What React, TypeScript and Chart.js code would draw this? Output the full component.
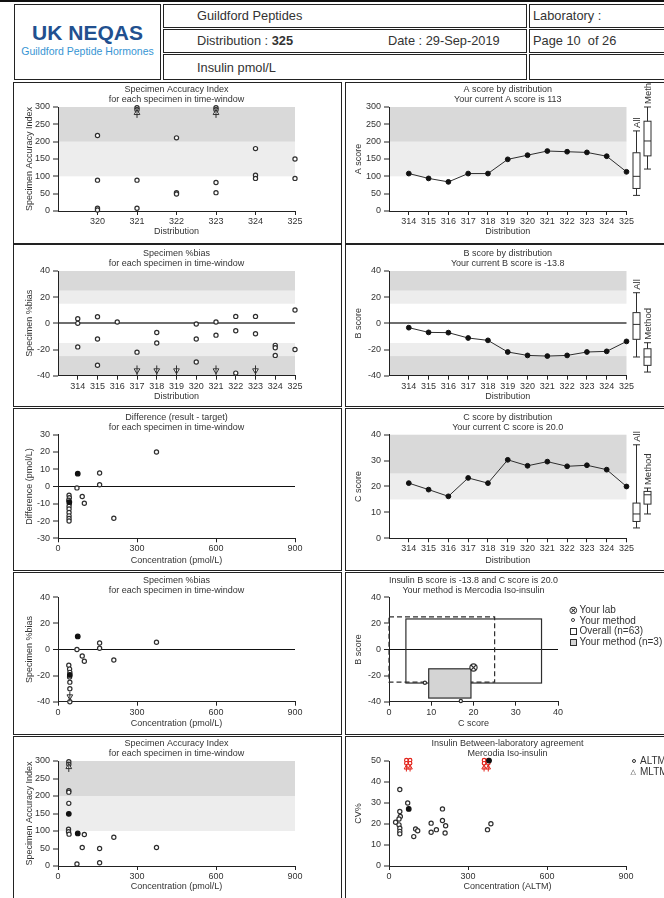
import React, { useEffect, useRef } from 'react';
import { Chart, registerables } from 'chart.js';

Chart.register(...registerables);

const FONT = '"Liberation Sans", Arial, Helvetica, sans-serif';
Chart.defaults.font.family = FONT;
Chart.defaults.font.size = 9;
Chart.defaults.color = '#333';

const TEXT = '#333';
const AXIS = '#222';
const MARK = '#2e2e2e';
const BAND_DARK = '#d9d9d9';
const BAND_LIGHT = '#ededed';
const BOX_FILL = '#d4d4d4';
const RED = '#e2231a';

// ---------- score panels ----------
const distributions = [314, 315, 316, 317, 318, 319, 320, 321, 322, 323, 324, 325];
const aScores = [108, 94, 84, 108, 108, 149, 161, 173, 171, 169, 158, 113];
const bScores = [-3.3, -6.9, -7.1, -11.2, -13.0, -21.9, -24.5, -25.0, -24.5, -21.9, -21.4, -13.8];
const cScores = [21.3, 18.8, 16.2, 23.3, 21.3, 30.3, 28.0, 29.6, 27.8, 28.2, 26.5, 20.0];

// box plots: [min, q1, median, q3, max]
const aAllBox = [45, 65, 100, 168, 231];
const aMethodBox = [121, 159, 202, 259, 300];
const bAllBox = [-25.7, -12.2, -0.8, 8.2, 23.4];
const bMethodBox = [-37.2, -32.1, -25.7, -19.4, -14.8];
const cAllBox = [4, 6.5, 9.4, 13.6, 36.1];
const cMethodBox = [9.4, 13.2, 16.8, 18.1, 19.4];

// performance limits
const saiLimits = [100, 200, 300];
const biasLimits = [15, 25, 40];
const cLimits = [15, 25, 40];
const bcLimitC = [0, 25];
const bcLimitB = [-25, 25];

// ---------- specimen accuracy index by distribution ----------
const saiDist = [320, 320, 320, 320, 321, 321, 322, 322, 322, 323, 323, 324, 324, 324, 325, 325];
const saiByDist = [218, 89, 8, 3, 89, 8, 211, 53, 49, 82, 53, 180, 103, 94, 150, 94];
const saiHighDist = [321, 321, 323, 323];
const saiHighByDist = [298, 292, 298, 292];
const saiArrowDist = [321, 323];
const saiArrowByDist = [283, 283];

// ---------- specimen %bias by distribution ----------
const biasDist = [314, 314, 314, 315, 315, 315, 316, 317, 318, 318, 320, 320, 320, 321, 321, 322, 322, 322, 323, 323, 324, 324, 324, 325, 325];
const biasByDist = [3.5, 0, -18, 5, -12, -32, 1, -22, -7, -15, -0.5, -12, -29.5, 1, -9, 5.3, -5.6, -38, 5.3, -8, -16.8, -18.6, -24.5, 10.2, -20];
const biasArrowDist = [317, 318, 319, 321, 323];
const biasArrowByDist = [-36, -36, -36, -36, -36];

// ---------- difference vs concentration ----------
const diffConc = [72, 158, 158, 374, 92, 100, 212, 42, 43, 41, 43, 42, 42, 42, 42, 42, 42];
const diffValues = [-0.8, 7.8, 1, 20, -5.8, -9.7, -18.4, -5, -6.5, -8, -10, -11.5, -13, -15, -17, -18.5, -20];
const diffCurrentConc = [75, 43];
const diffCurrentValues = [7.4, -9];

// ---------- %bias vs concentration ----------
const biasConc = [72, 92, 100, 158, 158, 374, 212, 41, 44, 45, 44, 45, 45, 45];
const biasByConc = [0, -5, -9, 5, 1, 5.6, -8, -12, -15, -17.5, -21, -25, -30, -40];
const biasCurrentConc = [75, 45];
const biasCurrentByConc = [10, -19.5];
const biasArrowConc = [45];
const biasArrowByConc = [-36];

// ---------- SAI vs concentration ----------
const saiConc = [41, 41, 41, 40, 40, 42, 100, 92, 158, 212, 374, 72, 158];
const saiByConc = [215, 211, 179, 105, 98, 91, 90, 53, 50, 82, 53, 6, 9.5];
const saiCurrentConc = [41, 75];
const saiCurrentByConc = [149, 93];
const saiHighConc = [41, 41];
const saiHighByConc = [298, 291];
const saiArrowConc = [41];
const saiArrowByConc = [283];

// ---------- B score vs C score ----------
const yourLabC = [20.0];
const yourLabB = [-13.8];
const yourMethodC = [8.5, 17];
const yourMethodB = [-25.5, -39.5];

// ---------- between-laboratory CV ----------
const cvConc = [41, 41, 43, 38, 25, 38, 41, 41, 41, 71, 94, 101, 109, 160, 160, 180, 203, 203, 215, 213, 374, 387];
const cvValues = [36.4, 26, 23.6, 22.4, 20.8, 19.6, 18, 16.5, 15.3, 30, 14, 17.6, 16.8, 20.4, 16.1, 17.3, 27.2, 21.7, 19.2, 15.7, 17.3, 20.1];
const cvCurrentConc = [75, 380];
const cvCurrentValues = [27.2, 50.2];
const cvHighConc = [66, 80, 66, 80, 361, 377, 361, 377];
const cvHighValues = [50.4, 50.4, 48.9, 48.9, 50.4, 50.4, 48.9, 48.9];
const cvArrowConc = [66, 80, 361, 377];
const cvArrowValues = [46.8, 46.8, 46.8, 46.8];

// ---------- tick labels ----------
const saiTicks = [0, 50, 100, 150, 200, 250, 300];
const biasTicks = [-40, -30, -20, -10, 0, 10, 20, 30, 40];
const diffTicks = [-30, -20, -10, 0, 10, 20, 30];
const cTicks = [0, 10, 20, 30, 40];
const cvTicks = [0, 10, 20, 30, 40, 50];
const concTicks = [0, 300, 600, 900];
const saiDistTicks = [320, 321, 322, 323, 324, 325];
const bcTicksC = [0, 10, 20, 30, 40];

// ---------- layout ----------
const ROWS = [
    { top: 82, height: 162, titleTop: 3, xHeight: 33, xTitlePad: 7 },
    { top: 244, height: 163, titleTop: 5, xHeight: 31.3, xTitlePad: 5.3 },
    { top: 408, height: 163, titleTop: 4.7, xHeight: 32.7, xTitlePad: 5 },
    { top: 572, height: 163, titleTop: 3.3, xHeight: 33.3, xTitlePad: 6.3 },
    { top: 736, height: 163, titleTop: 3, xHeight: 33, xTitlePad: 6.9 },
];
const COLS = {
    L: { left: 13, width: 329, yWidth: 45, yTitlePad: 11, rightPad: 47 },
    R: { left: 345, width: 355, yWidth: 44, yTitlePad: 8.6, rightPad: 73.5 },
};

type Band = { from: number; to: number; color: string };
type BoxItem = { stats: number[]; offset: number; label: string };
type RectItem = { x: number[]; y: number[]; fill?: string; dash?: number[] };

const xy = (xs: number[], ys: number[]) => xs.map((x, i) => ({ x, y: ys[i] }));

const bandsFor = (limits: number[], mirrored: boolean): Band[] => {
    const [l1, l2, l3] = limits;
    const list = [
        { from: l1, to: l2, color: BAND_LIGHT },
        { from: l2, to: l3, color: BAND_DARK },
    ];
    return mirrored ? [...list, ...list.map(b => ({ ...b, from: -b.from, to: -b.to }))] : list;
};

// shaded performance bands behind everything
const bandsPlugin = (bands: Band[]) => ({
    id: 'bands',
    beforeDraw(chart: any) {
        const { ctx, chartArea: a, scales: { y } } = chart;
        ctx.save();
        bands.forEach(b => {
            const y1 = y.getPixelForValue(b.from);
            const y2 = y.getPixelForValue(b.to);
            ctx.fillStyle = b.color;
            ctx.fillRect(a.left, Math.min(y1, y2), a.right - a.left, Math.abs(y2 - y1));
        });
        ctx.restore();
    },
});

// box-and-whisker summaries to the right of the plot
const boxPlugin = (items: BoxItem[]) => ({
    id: 'boxes',
    afterDraw(chart: any) {
        const { ctx, chartArea: a, scales: { y } } = chart;
        ctx.save();
        ctx.strokeStyle = MARK;
        ctx.lineWidth = 1;
        items.forEach(it => {
            const cx = Math.round(a.right + it.offset) + 0.5;
            const [lo, q1, md, q3, hi] = it.stats.map(v => y.getPixelForValue(v));
            const hw = 3.5;
            ctx.fillStyle = '#fff';
            ctx.fillRect(cx - hw, q3, hw * 2, q1 - q3);
            ctx.beginPath();
            ctx.moveTo(cx, lo); ctx.lineTo(cx, q1);
            ctx.moveTo(cx, q3); ctx.lineTo(cx, hi);
            ctx.moveTo(cx - hw, lo); ctx.lineTo(cx + hw, lo);
            ctx.moveTo(cx - hw, hi); ctx.lineTo(cx + hw, hi);
            ctx.moveTo(cx - hw, md); ctx.lineTo(cx + hw, md);
            ctx.stroke();
            ctx.strokeRect(cx - hw, q3, hw * 2, q1 - q3);
            ctx.save();
            ctx.translate(cx + 1, hi - 3);
            ctx.rotate(-Math.PI / 2);
            ctx.fillStyle = TEXT;
            ctx.font = `9.5px ${FONT}`;
            ctx.textAlign = 'left';
            ctx.textBaseline = 'middle';
            ctx.fillText(it.label, 0, 0);
            ctx.restore();
        });
        ctx.restore();
    },
});

// rectangles in value space (B vs C panel)
const rectPlugin = (items: RectItem[]) => ({
    id: 'rects',
    beforeDatasetsDraw(chart: any) {
        const { ctx, scales: { x, y } } = chart;
        ctx.save();
        items.forEach(r => {
            const x1 = x.getPixelForValue(r.x[0]);
            const x2 = x.getPixelForValue(r.x[1]);
            const y1 = y.getPixelForValue(r.y[1]);
            const y2 = y.getPixelForValue(r.y[0]);
            if (r.fill) {
                ctx.fillStyle = r.fill;
                ctx.fillRect(x1, y1, x2 - x1, y2 - y1);
            }
            ctx.setLineDash(r.dash || []);
            ctx.lineWidth = 1.2;
            ctx.strokeStyle = MARK;
            ctx.strokeRect(x1, y1, x2 - x1, y2 - y1);
        });
        ctx.restore();
    },
});

// dataset helpers
const openDs = (data: any[], r = 2.1, color = MARK) => ({
    data, pointStyle: 'circle', pointRadius: r, pointBorderWidth: 1.2,
    pointBorderColor: color, pointBackgroundColor: '#fff', borderColor: color, backgroundColor: '#fff',
    clip: false, order: 3,
});
const filledDs = (data: any[], r = 2.3) => ({
    ...openDs(data, r), pointBackgroundColor: '#111', backgroundColor: '#111', pointBorderColor: '#111', order: 1,
});
const arrowDs = (data: any[], down: boolean, color = MARK) => [
    {
        data, pointStyle: 'line', pointRotation: 90, pointRadius: 5, pointBorderWidth: 1,
        pointBorderColor: color, borderColor: color, clip: false, order: 1,
    },
    {
        data, pointStyle: 'triangle', pointRotation: down ? 180 : 0, pointRadius: 3.3, pointBorderWidth: 1,
        pointBorderColor: color, pointBackgroundColor: '#fff', borderColor: color, backgroundColor: '#fff',
        clip: false, order: 2,
    },
];
const scoreDs = (scores: number[]) => ({
    data: xy(distributions, scores), showLine: true, borderColor: MARK, borderWidth: 1, tension: 0,
    pointStyle: 'circle', pointRadius: 2.4, pointBorderWidth: 1, pointBackgroundColor: '#111',
    pointBorderColor: '#111', clip: false,
});

type Spec = {
    row: number; side: 'L' | 'R'; rightPad?: number;
    title: string[]; xTitle: string; yTitle: string;
    x: { min: number; max: number; ticks: number[] };
    y: { min: number; max: number; ticks: number[] };
    zero?: { color: string; width: number };
};

function buildOptions(s: Spec) {
    const g = ROWS[s.row];
    const c = COLS[s.side];
    const zero = s.zero;
    return {
        responsive: true,
        maintainAspectRatio: false,
        animation: false,
        events: [],
        layout: { padding: { left: 0, top: 0, bottom: 0, right: s.rightPad ?? c.rightPad } },
        plugins: {
            legend: { display: false },
            tooltip: { enabled: false },
            title: {
                display: true, text: s.title, fullSize: false, color: TEXT,
                font: { size: 9, weight: 'normal', lineHeight: '10px' },
                padding: { top: g.titleTop, bottom: 2 },
            },
        },
        scales: {
            x: {
                type: 'linear', position: 'bottom', min: s.x.min, max: s.x.max,
                afterFit: (sc: any) => { sc.height = g.xHeight; },
                afterBuildTicks: (sc: any) => { sc.ticks = s.x.ticks.map(v => ({ value: v })); },
                ticks: { color: TEXT, font: { size: 9 }, padding: 1, maxRotation: 0, autoSkip: false },
                grid: { drawOnChartArea: false, drawTicks: true, tickLength: 4, tickColor: AXIS, tickWidth: 1 },
                border: { display: true, color: AXIS, width: 1 },
                title: { display: true, text: s.xTitle, color: TEXT, font: { size: 9 }, padding: { top: 0, bottom: g.xTitlePad } },
            },
            y: {
                type: 'linear', position: 'left', min: s.y.min, max: s.y.max,
                afterFit: (sc: any) => { sc.width = c.yWidth; },
                afterBuildTicks: (sc: any) => { sc.ticks = s.y.ticks.map(v => ({ value: v })); },
                ticks: { color: TEXT, font: { size: 9 }, padding: 3 },
                grid: {
                    drawOnChartArea: !!zero, drawTicks: true, tickLength: 5, tickColor: AXIS, tickWidth: 1,
                    color: (ctx: any) => (zero && ctx.tick && ctx.tick.value === 0 ? zero.color : 'rgba(0,0,0,0)'),
                    lineWidth: (ctx: any) => (zero && ctx.tick && ctx.tick.value === 0 ? zero.width : 0),
                },
                border: { display: true, color: AXIS, width: 1 },
                title: { display: true, text: s.yTitle, color: TEXT, font: { size: 9 }, padding: { top: c.yTitlePad } },
            },
        },
    };
}

const GRAY_ZERO = { color: '#6e6e6e', width: 2 };
const BLACK_ZERO = { color: '#111', width: 1 };

const saiDistSpec: Spec = {
    row: 0, side: 'L', title: ['Specimen Accuracy Index', 'for each specimen in time-window'],
    xTitle: 'Distribution', yTitle: 'Specimen Accuracy Index',
    x: { min: 319, max: 325, ticks: saiDistTicks }, y: { min: 0, max: 300, ticks: saiTicks },
};
const aSpec: Spec = {
    row: 0, side: 'R', title: ['A score by distribution', 'Your current A score is 113'],
    xTitle: 'Distribution', yTitle: 'A score',
    x: { min: 313, max: 325, ticks: distributions }, y: { min: 0, max: 300, ticks: saiTicks },
};
const biasDistSpec: Spec = {
    row: 1, side: 'L', title: ['Specimen %bias', 'for each specimen in time-window'],
    xTitle: 'Distribution', yTitle: 'Specimen %bias', zero: GRAY_ZERO,
    x: { min: 313, max: 325, ticks: distributions }, y: { min: -40, max: 40, ticks: biasTicks },
};
const bSpec: Spec = {
    row: 1, side: 'R', title: ['B score by distribution', 'Your current B score is -13.8'],
    xTitle: 'Distribution', yTitle: 'B score', zero: GRAY_ZERO,
    x: { min: 313, max: 325, ticks: distributions }, y: { min: -40, max: 40, ticks: biasTicks },
};
const diffSpec: Spec = {
    row: 2, side: 'L', title: ['Difference (result - target)', 'for each specimen in time-window'],
    xTitle: 'Concentration (pmol/L)', yTitle: 'Difference (pmol/L)', zero: BLACK_ZERO,
    x: { min: 0, max: 900, ticks: concTicks }, y: { min: -30, max: 30, ticks: diffTicks },
};
const cSpec: Spec = {
    row: 2, side: 'R', title: ['C score by distribution', 'Your current C score is 20.0'],
    xTitle: 'Distribution', yTitle: 'C score',
    x: { min: 313, max: 325, ticks: distributions }, y: { min: 0, max: 40, ticks: cTicks },
};
const biasConcSpec: Spec = {
    row: 3, side: 'L', title: ['Specimen %bias', 'for each specimen in time-window'],
    xTitle: 'Concentration (pmol/L)', yTitle: 'Specimen %bias', zero: BLACK_ZERO,
    x: { min: 0, max: 900, ticks: concTicks }, y: { min: -40, max: 40, ticks: biasTicks },
};
const bcSpec: Spec = {
    row: 3, side: 'R', rightPad: 142,
    title: ['Insulin B score is -13.8 and C score is 20.0', 'Your method is Mercodia Iso-insulin'],
    xTitle: 'C score', yTitle: 'B score', zero: BLACK_ZERO,
    x: { min: 0, max: 40, ticks: bcTicksC }, y: { min: -40, max: 40, ticks: biasTicks },
};
const saiConcSpec: Spec = {
    row: 4, side: 'L', title: ['Specimen Accuracy Index', 'for each specimen in time-window'],
    xTitle: 'Concentration (pmol/L)', yTitle: 'Specimen Accuracy Index',
    x: { min: 0, max: 900, ticks: concTicks }, y: { min: 0, max: 300, ticks: saiTicks },
};
const cvSpec: Spec = {
    row: 4, side: 'R', rightPad: 74, title: ['Insulin Between-laboratory agreement', 'Mercodia Iso-insulin'],
    xTitle: 'Concentration (ALTM)', yTitle: 'CV%',
    x: { min: 0, max: 900, ticks: concTicks }, y: { min: 0, max: 50, ticks: cvTicks },
};

const PANELS: { spec: Spec; build: () => any }[] = [
    {
        spec: saiDistSpec,
        build: () => ({
            type: 'scatter',
            data: { datasets: [
                openDs(xy(saiDist, saiByDist)),
                openDs(xy(saiHighDist, saiHighByDist)),
                ...arrowDs(xy(saiArrowDist, saiArrowByDist), false),
            ] },
            options: buildOptions(saiDistSpec),
            plugins: [bandsPlugin(bandsFor(saiLimits, false))],
        }),
    },
    {
        spec: aSpec,
        build: () => ({
            type: 'scatter',
            data: { datasets: [scoreDs(aScores)] },
            options: buildOptions(aSpec),
            plugins: [
                bandsPlugin(bandsFor(saiLimits, false)),
                boxPlugin([{ stats: aAllBox, offset: 9.5, label: 'All' }, { stats: aMethodBox, offset: 20.5, label: 'Method' }]),
            ],
        }),
    },
    {
        spec: biasDistSpec,
        build: () => ({
            type: 'scatter',
            data: { datasets: [
                openDs(xy(biasDist, biasByDist)),
                ...arrowDs(xy(biasArrowDist, biasArrowByDist), true),
            ] },
            options: buildOptions(biasDistSpec),
            plugins: [bandsPlugin(bandsFor(biasLimits, true))],
        }),
    },
    {
        spec: bSpec,
        build: () => ({
            type: 'scatter',
            data: { datasets: [scoreDs(bScores)] },
            options: buildOptions(bSpec),
            plugins: [
                bandsPlugin(bandsFor(biasLimits, true)),
                boxPlugin([{ stats: bAllBox, offset: 9.5, label: 'All' }, { stats: bMethodBox, offset: 20.5, label: 'Method' }]),
            ],
        }),
    },
    {
        spec: diffSpec,
        build: () => ({
            type: 'scatter',
            data: { datasets: [
                filledDs(xy(diffCurrentConc, diffCurrentValues)),
                openDs(xy(diffConc, diffValues)),
            ] },
            options: buildOptions(diffSpec),
        }),
    },
    {
        spec: cSpec,
        build: () => ({
            type: 'scatter',
            data: { datasets: [scoreDs(cScores)] },
            options: buildOptions(cSpec),
            plugins: [
                bandsPlugin(bandsFor(cLimits, false)),
                boxPlugin([{ stats: cAllBox, offset: 9.5, label: 'All' }, { stats: cMethodBox, offset: 20.5, label: 'Method' }]),
            ],
        }),
    },
    {
        spec: biasConcSpec,
        build: () => ({
            type: 'scatter',
            data: { datasets: [
                filledDs(xy(biasCurrentConc, biasCurrentByConc)),
                openDs(xy(biasConc, biasByConc)),
                ...arrowDs(xy(biasArrowConc, biasArrowByConc), true),
            ] },
            options: buildOptions(biasConcSpec),
        }),
    },
    {
        spec: bcSpec,
        build: () => ({
            type: 'scatter',
            data: { datasets: [
                { ...openDs(xy(yourLabC, yourLabB), 3.6), order: 2 },
                { data: xy(yourLabC, yourLabB), pointStyle: 'crossRot', pointRadius: 3.6, pointBorderWidth: 1.2,
                  pointBorderColor: MARK, borderColor: MARK, clip: false, order: 1 },
                openDs(xy(yourMethodC, yourMethodB), 1.6),
            ] },
            options: buildOptions(bcSpec),
            plugins: [rectPlugin([
                { x: [cAllBox[0], cAllBox[4]], y: [bAllBox[0], bAllBox[4]] },
                { x: bcLimitC, y: bcLimitB, dash: [5, 3] },
                { x: [cMethodBox[0], cMethodBox[4]], y: [bMethodBox[0], bMethodBox[4]], fill: BOX_FILL },
            ])],
        }),
    },
    {
        spec: saiConcSpec,
        build: () => ({
            type: 'scatter',
            data: { datasets: [
                filledDs(xy(saiCurrentConc, saiCurrentByConc)),
                openDs(xy(saiConc, saiByConc)),
                openDs(xy(saiHighConc, saiHighByConc)),
                ...arrowDs(xy(saiArrowConc, saiArrowByConc), false),
            ] },
            options: buildOptions(saiConcSpec),
            plugins: [bandsPlugin(bandsFor(saiLimits, false))],
        }),
    },
    {
        spec: cvSpec,
        build: () => ({
            type: 'scatter',
            data: { datasets: [
                filledDs(xy(cvCurrentConc, cvCurrentValues)),
                openDs(xy(cvConc, cvValues)),
                openDs(xy(cvHighConc, cvHighValues), 1.8, RED),
                ...arrowDs(xy(cvArrowConc, cvArrowValues), false, RED).map(d => ({ ...d, pointRadius: d.pointStyle === 'line' ? 3.8 : 2.6 })),
            ] },
            options: buildOptions(cvSpec),
        }),
    },
];

function ChartPanel({ spec, build }: { spec: Spec; build: () => any }) {
    const canvasRef = useRef<HTMLCanvasElement | null>(null);
    const g = ROWS[spec.row];
    const c = COLS[spec.side];

    useEffect(() => {
        if (!canvasRef.current) return;
        const chart = new Chart(canvasRef.current, build());
        return () => chart.destroy();
    }, [build]);

    const box: React.CSSProperties = { position: 'absolute', left: c.left, top: g.top, width: c.width, height: g.height };
    return (
        <>
            <div style={box}>
                <canvas ref={canvasRef} />
            </div>
            <div style={{ ...box, border: '1.5px solid #222', boxSizing: 'border-box', pointerEvents: 'none' }} />
        </>
    );
}

function Header() {
    const cell = (left: number, top: number, width: number, height: number): React.CSSProperties => ({
        position: 'absolute', left, top, width, height, border: '1.5px solid #222', boxSizing: 'border-box',
    });
    const txt = (left: number, cy: number): React.CSSProperties => ({
        position: 'absolute', left, top: cy - 8, lineHeight: '16px', fontSize: 12.8, color: TEXT, whiteSpace: 'nowrap',
    });
    return (
        <>
            <div style={{ position: 'absolute', left: 0, top: 0, width: 664, height: 2, background: '#111' }} />
            <div style={cell(14, 4, 147, 76)} />
            <div style={{ position: 'absolute', left: 14, width: 147, top: 21, lineHeight: '23px', textAlign: 'center',
                fontSize: 21, fontWeight: 'bold', color: '#22508f' }}>UK NEQAS</div>
            <div style={{ position: 'absolute', left: 14, width: 147, top: 45, lineHeight: '12px', textAlign: 'center',
                fontSize: 10.5, color: '#3795d3', whiteSpace: 'nowrap' }}>Guildford Peptide Hormones</div>

            <div style={cell(163, 4, 364, 24)} />
            <div style={cell(163, 29, 364, 24)} />
            <div style={cell(163, 54, 364, 26)} />
            <div style={cell(529, 4, 150, 24)} />
            <div style={cell(529, 29, 150, 24)} />
            <div style={cell(529, 54, 150, 26)} />

            <div style={txt(197, 15.5)}>Guildford Peptides</div>
            <div style={txt(197, 40.7)}>Distribution : <b>325</b></div>
            <div style={txt(388, 40.7)}>Date : 29-Sep-2019</div>
            <div style={txt(197, 67.5)}>Insulin pmol/L</div>
            <div style={txt(533, 15.5)}>Laboratory :</div>
            <div style={txt(533, 40.7)}>Page 10&nbsp; of 26</div>
        </>
    );
}

function Legends() {
    const label = (left: number, cy: number): React.CSSProperties => ({
        position: 'absolute', left, top: cy - 6, lineHeight: '12px', fontSize: 10, color: TEXT, whiteSpace: 'nowrap',
    });
    const circle = (cx: number, cy: number, d: number): React.CSSProperties => ({
        position: 'absolute', left: cx - d / 2, top: cy - d / 2, width: d, height: d, boxSizing: 'border-box',
        border: `1.1px solid ${MARK}`, borderRadius: '50%', background: '#fff',
    });
    const square = (cx: number, cy: number, fill: string): React.CSSProperties => ({
        position: 'absolute', left: cx - 3.5, top: cy - 3.5, width: 7, height: 7, boxSizing: 'border-box',
        border: `1px solid ${MARK}`, background: fill,
    });
    return (
        <>
            {/* B vs C legend */}
            <div style={{ position: 'absolute', left: 568.5, top: 603.5, fontSize: 11.5, lineHeight: '13px', color: MARK,
                fontFamily: '"DejaVu Sans", sans-serif' }}>⊗</div>
            <div style={label(579.5, 610)}>Your lab</div>
            <div style={circle(573, 620, 3.8)} />
            <div style={label(579.5, 620.5)}>Your method</div>
            <div style={square(573, 631, '#fff')} />
            <div style={label(579.5, 630.5)}>Overall (n=63)</div>
            <div style={square(573, 642, BOX_FILL)} />
            <div style={label(579.5, 641.5)}>Your method (n=3)</div>

            {/* CV legend */}
            <div style={circle(633.5, 761, 4)} />
            <div style={label(640, 760.7)}>ALTM</div>
            <div style={{ position: 'absolute', left: 630.5, top: 766.5, fontSize: 7, lineHeight: '10px', color: MARK,
                fontFamily: '"DejaVu Sans", sans-serif' }}>△</div>
            <div style={label(640, 771.7)}>MLTM</div>
        </>
    );
}

export default function App() {
    return (
        <div style={{ position: 'absolute', left: 0, top: 0, width: 664, height: 898, overflow: 'hidden',
            background: '#fff', fontFamily: FONT, color: TEXT }}>
            <Header />
            {PANELS.map((p, i) => <ChartPanel key={i} spec={p.spec} build={p.build} />)}
            <Legends />
        </div>
    );
}
